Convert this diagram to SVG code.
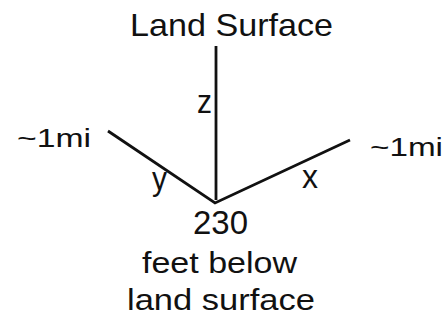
<svg xmlns="http://www.w3.org/2000/svg" width="447" height="326" viewBox="0 0 447 326">
<style>
text{font-family:"Liberation Sans",Arial,sans-serif;fill:#111;}
.ax{stroke:#111;stroke-width:2.8;fill:none;stroke-linecap:butt;}
</style>
<rect width="447" height="326" fill="#fff"/>
<g id="connectors">
<line class="ax" x1="216" y1="46" x2="216" y2="200"/>
<polyline class="ax" points="108,131 215,203 350,140"/>
</g>
<g id="land-surface"><text x="130" y="36" font-size="32" textLength="203" lengthAdjust="spacingAndGlyphs">Land Surface</text></g>
<g id="z-label"><text x="197" y="113" font-size="33" textLength="15" lengthAdjust="spacingAndGlyphs">z</text></g>
<g id="left-1mi"><text x="17" y="147" font-size="26" textLength="74" lengthAdjust="spacingAndGlyphs">~1mi</text></g>
<g id="right-1mi"><text x="370" y="156" font-size="26" textLength="73" lengthAdjust="spacingAndGlyphs">~1mi</text></g>
<g id="y-label"><text x="152" y="190" font-size="33" textLength="15" lengthAdjust="spacingAndGlyphs">y</text></g>
<g id="x-label"><text x="302" y="188" font-size="33" textLength="16" lengthAdjust="spacingAndGlyphs">x</text></g>
<g id="depth">
<text x="193" y="234" font-size="33" textLength="55" lengthAdjust="spacingAndGlyphs">230</text>
<text x="142" y="273" font-size="30" textLength="155" lengthAdjust="spacingAndGlyphs">feet below</text>
<text x="127" y="310" font-size="30" textLength="188" lengthAdjust="spacingAndGlyphs">land surface</text>
</g>
</svg>
